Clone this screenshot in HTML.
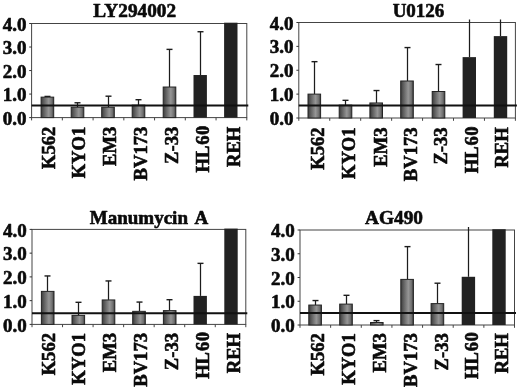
<!DOCTYPE html>
<html><head><meta charset="utf-8"><title>Figure</title>
<style>
html,body{margin:0;padding:0;background:#fff;}
body{width:520px;height:390px;overflow:hidden;}
svg{display:block;}
text{font-family:"Liberation Serif","DejaVu Serif",serif;font-weight:bold;fill:#0a0a0a;stroke:#0a0a0a;stroke-width:0.6;stroke-linejoin:round;}
</style></head><body>
<svg width="520" height="390" viewBox="0 0 520 390">
<defs>
<linearGradient id="g" x1="0" y1="0" x2="1" y2="0">
<stop offset="0" stop-color="#3c3c3c"/><stop offset="0.2" stop-color="#5c5c5c"/><stop offset="0.6" stop-color="#969696"/><stop offset="0.85" stop-color="#707070"/><stop offset="1" stop-color="#3c3c3c"/>
</linearGradient>
</defs>
<rect width="520" height="390" fill="#fff"/>

<g>
<text x="134.7" y="16.7" font-size="19.3" text-anchor="middle">LY294002</text>
<rect x="31.6" y="23.5" width="215.2" height="94.1" fill="none" stroke="#444" stroke-width="1"/>
<line x1="29.200000000000003" y1="117.60" x2="31.6" y2="117.60" stroke="#333" stroke-width="1"/>
<text x="26.4" y="124.70" font-size="19" text-anchor="end">0.0</text>
<line x1="29.200000000000003" y1="94.07" x2="31.6" y2="94.07" stroke="#333" stroke-width="1"/>
<text x="26.4" y="101.17" font-size="19" text-anchor="end">1.0</text>
<line x1="29.200000000000003" y1="70.55" x2="31.6" y2="70.55" stroke="#333" stroke-width="1"/>
<text x="26.4" y="77.65" font-size="19" text-anchor="end">2.0</text>
<line x1="29.200000000000003" y1="47.03" x2="31.6" y2="47.03" stroke="#333" stroke-width="1"/>
<text x="26.4" y="54.13" font-size="19" text-anchor="end">3.0</text>
<line x1="29.200000000000003" y1="23.50" x2="31.6" y2="23.50" stroke="#333" stroke-width="1"/>
<text x="26.4" y="30.60" font-size="19" text-anchor="end">4.0</text>
<line x1="31.60" y1="117.6" x2="31.60" y2="120.4" stroke="#444" stroke-width="1"/>
<line x1="62.34" y1="117.6" x2="62.34" y2="120.4" stroke="#444" stroke-width="1"/>
<line x1="93.09" y1="117.6" x2="93.09" y2="120.4" stroke="#444" stroke-width="1"/>
<line x1="123.83" y1="117.6" x2="123.83" y2="120.4" stroke="#444" stroke-width="1"/>
<line x1="154.57" y1="117.6" x2="154.57" y2="120.4" stroke="#444" stroke-width="1"/>
<line x1="185.31" y1="117.6" x2="185.31" y2="120.4" stroke="#444" stroke-width="1"/>
<line x1="216.06" y1="117.6" x2="216.06" y2="120.4" stroke="#444" stroke-width="1"/>
<line x1="246.80" y1="117.6" x2="246.80" y2="120.4" stroke="#444" stroke-width="1"/>
<line x1="47.5" y1="96.43" x2="47.5" y2="97.13" stroke="#1c1c1c" stroke-width="1.25"/>
<line x1="44.5" y1="96.43" x2="50.5" y2="96.43" stroke="#1c1c1c" stroke-width="1.4"/>
<rect x="41.10" y="97.13" width="12.6" height="20.47" fill="url(#g)" stroke="#242424" stroke-width="1"/>
<line x1="77.5" y1="102.78" x2="77.5" y2="107.25" stroke="#1c1c1c" stroke-width="1.25"/>
<line x1="74.5" y1="102.78" x2="80.5" y2="102.78" stroke="#1c1c1c" stroke-width="1.4"/>
<rect x="71.20" y="107.25" width="12.6" height="10.35" fill="url(#g)" stroke="#242424" stroke-width="1"/>
<line x1="108.5" y1="96.19" x2="108.5" y2="107.25" stroke="#1c1c1c" stroke-width="1.25"/>
<line x1="105.5" y1="96.19" x2="111.5" y2="96.19" stroke="#1c1c1c" stroke-width="1.4"/>
<rect x="101.70" y="107.25" width="12.6" height="10.35" fill="url(#g)" stroke="#242424" stroke-width="1"/>
<line x1="138.5" y1="99.72" x2="138.5" y2="105.13" stroke="#1c1c1c" stroke-width="1.25"/>
<line x1="135.5" y1="99.72" x2="141.5" y2="99.72" stroke="#1c1c1c" stroke-width="1.4"/>
<rect x="132.20" y="105.13" width="12.6" height="12.47" fill="url(#g)" stroke="#242424" stroke-width="1"/>
<line x1="169.5" y1="49.38" x2="169.5" y2="87.02" stroke="#1c1c1c" stroke-width="1.25"/>
<line x1="166.5" y1="49.38" x2="172.5" y2="49.38" stroke="#1c1c1c" stroke-width="1.4"/>
<rect x="163.20" y="87.02" width="12.6" height="30.58" fill="url(#g)" stroke="#242424" stroke-width="1"/>
<line x1="200.5" y1="31.73" x2="200.5" y2="75.02" stroke="#1c1c1c" stroke-width="1.25"/>
<line x1="197.5" y1="31.73" x2="203.5" y2="31.73" stroke="#1c1c1c" stroke-width="1.4"/>
<rect x="193.50" y="75.02" width="13.4" height="42.58" fill="#222"/>
<rect x="224.10" y="22.70" width="13.4" height="94.90" fill="#222"/>
<line x1="31.6" y1="105.5" x2="248.3" y2="105.5" stroke="#111" stroke-width="2"/>
<text transform="translate(55.1,126.7) rotate(-90)" font-size="18.6" text-anchor="end">K562</text>
<text transform="translate(85.3,126.7) rotate(-90)" font-size="18.6" text-anchor="end">KYO1</text>
<text transform="translate(116.1,126.7) rotate(-90)" font-size="18.6" text-anchor="end">EM3</text>
<text transform="translate(147.3,126.7) rotate(-90)" font-size="18.6" text-anchor="end">BV173</text>
<text transform="translate(178.3,126.7) rotate(-90)" font-size="18.6" text-anchor="end">Z-33</text>
<text transform="translate(209.3,125.7) rotate(-90)" font-size="18.6" text-anchor="end">HL<tspan dx="1.0">6</tspan><tspan dx="0.4">0</tspan></text>
<text transform="translate(239.8,126.7) rotate(-90)" font-size="18.6" text-anchor="end">REH</text>
</g>
<g>
<text x="418.5" y="16.5" font-size="19" text-anchor="middle">U0126</text>
<rect x="298.8" y="22.5" width="216.6" height="95.5" fill="none" stroke="#444" stroke-width="1"/>
<line x1="296.40000000000003" y1="118.00" x2="298.8" y2="118.00" stroke="#333" stroke-width="1"/>
<text x="293.6" y="125.10" font-size="19" text-anchor="end">0.0</text>
<line x1="296.40000000000003" y1="94.12" x2="298.8" y2="94.12" stroke="#333" stroke-width="1"/>
<text x="293.6" y="101.22" font-size="19" text-anchor="end">1.0</text>
<line x1="296.40000000000003" y1="70.25" x2="298.8" y2="70.25" stroke="#333" stroke-width="1"/>
<text x="293.6" y="77.35" font-size="19" text-anchor="end">2.0</text>
<line x1="296.40000000000003" y1="46.38" x2="298.8" y2="46.38" stroke="#333" stroke-width="1"/>
<text x="293.6" y="53.48" font-size="19" text-anchor="end">3.0</text>
<line x1="296.40000000000003" y1="22.50" x2="298.8" y2="22.50" stroke="#333" stroke-width="1"/>
<text x="293.6" y="29.60" font-size="19" text-anchor="end">4.0</text>
<line x1="298.80" y1="118" x2="298.80" y2="120.8" stroke="#444" stroke-width="1"/>
<line x1="329.74" y1="118" x2="329.74" y2="120.8" stroke="#444" stroke-width="1"/>
<line x1="360.69" y1="118" x2="360.69" y2="120.8" stroke="#444" stroke-width="1"/>
<line x1="391.63" y1="118" x2="391.63" y2="120.8" stroke="#444" stroke-width="1"/>
<line x1="422.57" y1="118" x2="422.57" y2="120.8" stroke="#444" stroke-width="1"/>
<line x1="453.51" y1="118" x2="453.51" y2="120.8" stroke="#444" stroke-width="1"/>
<line x1="484.46" y1="118" x2="484.46" y2="120.8" stroke="#444" stroke-width="1"/>
<line x1="515.40" y1="118" x2="515.40" y2="120.8" stroke="#444" stroke-width="1"/>
<line x1="314.5" y1="61.66" x2="314.5" y2="94.12" stroke="#1c1c1c" stroke-width="1.25"/>
<line x1="311.5" y1="61.66" x2="317.5" y2="61.66" stroke="#1c1c1c" stroke-width="1.4"/>
<rect x="308.00" y="94.12" width="12.6" height="23.88" fill="url(#g)" stroke="#242424" stroke-width="1"/>
<line x1="345.5" y1="100.33" x2="345.5" y2="105.11" stroke="#1c1c1c" stroke-width="1.25"/>
<line x1="342.5" y1="100.33" x2="348.5" y2="100.33" stroke="#1c1c1c" stroke-width="1.4"/>
<rect x="339.20" y="105.11" width="12.6" height="12.89" fill="url(#g)" stroke="#242424" stroke-width="1"/>
<line x1="376.5" y1="90.54" x2="376.5" y2="102.96" stroke="#1c1c1c" stroke-width="1.25"/>
<line x1="373.5" y1="90.54" x2="379.5" y2="90.54" stroke="#1c1c1c" stroke-width="1.4"/>
<rect x="369.90" y="102.96" width="12.6" height="15.04" fill="url(#g)" stroke="#242424" stroke-width="1"/>
<line x1="407.5" y1="47.57" x2="407.5" y2="80.99" stroke="#1c1c1c" stroke-width="1.25"/>
<line x1="404.5" y1="47.57" x2="410.5" y2="47.57" stroke="#1c1c1c" stroke-width="1.4"/>
<rect x="400.70" y="80.99" width="12.6" height="37.01" fill="url(#g)" stroke="#242424" stroke-width="1"/>
<line x1="438.5" y1="64.52" x2="438.5" y2="91.50" stroke="#1c1c1c" stroke-width="1.25"/>
<line x1="435.5" y1="64.52" x2="441.5" y2="64.52" stroke="#1c1c1c" stroke-width="1.4"/>
<rect x="432.20" y="91.50" width="12.6" height="26.50" fill="url(#g)" stroke="#242424" stroke-width="1"/>
<line x1="469.5" y1="19.50" x2="469.5" y2="57.12" stroke="#1c1c1c" stroke-width="1.25"/>
<rect x="462.60" y="57.12" width="13.4" height="60.88" fill="#222"/>
<line x1="500.5" y1="19.50" x2="500.5" y2="36.11" stroke="#1c1c1c" stroke-width="1.25"/>
<rect x="493.80" y="36.11" width="13.4" height="81.89" fill="#222"/>
<line x1="298.8" y1="105.4" x2="516.9" y2="105.4" stroke="#111" stroke-width="2"/>
<text transform="translate(324.3,127.4) rotate(-90)" font-size="18.6" text-anchor="end">K562</text>
<text transform="translate(355.3,127.4) rotate(-90)" font-size="18.6" text-anchor="end">KYO1</text>
<text transform="translate(386.8,127.4) rotate(-90)" font-size="18.6" text-anchor="end">EM3</text>
<text transform="translate(417.3,127.4) rotate(-90)" font-size="18.6" text-anchor="end">BV173</text>
<text transform="translate(447.3,127.4) rotate(-90)" font-size="18.6" text-anchor="end">Z-33</text>
<text transform="translate(478.3,126.4) rotate(-90)" font-size="18.6" text-anchor="end">HL<tspan dx="1.0">6</tspan><tspan dx="0.4">0</tspan></text>
<text transform="translate(508.3,127.4) rotate(-90)" font-size="18.6" text-anchor="end">REH</text>
</g>
<g>
<text x="89.8" y="224.3" font-size="19">Manumycin <tspan x="194.6">A</tspan></text>
<rect x="32" y="229.4" width="213.8" height="95.0" fill="none" stroke="#444" stroke-width="1"/>
<line x1="29.6" y1="324.40" x2="32" y2="324.40" stroke="#333" stroke-width="1"/>
<text x="26.8" y="331.50" font-size="19" text-anchor="end">0.0</text>
<line x1="29.6" y1="300.65" x2="32" y2="300.65" stroke="#333" stroke-width="1"/>
<text x="26.8" y="307.75" font-size="19" text-anchor="end">1.0</text>
<line x1="29.6" y1="276.90" x2="32" y2="276.90" stroke="#333" stroke-width="1"/>
<text x="26.8" y="284.00" font-size="19" text-anchor="end">2.0</text>
<line x1="29.6" y1="253.15" x2="32" y2="253.15" stroke="#333" stroke-width="1"/>
<text x="26.8" y="260.25" font-size="19" text-anchor="end">3.0</text>
<line x1="29.6" y1="229.40" x2="32" y2="229.40" stroke="#333" stroke-width="1"/>
<text x="26.8" y="236.50" font-size="19" text-anchor="end">4.0</text>
<line x1="32.00" y1="324.4" x2="32.00" y2="327.2" stroke="#444" stroke-width="1"/>
<line x1="62.54" y1="324.4" x2="62.54" y2="327.2" stroke="#444" stroke-width="1"/>
<line x1="93.09" y1="324.4" x2="93.09" y2="327.2" stroke="#444" stroke-width="1"/>
<line x1="123.63" y1="324.4" x2="123.63" y2="327.2" stroke="#444" stroke-width="1"/>
<line x1="154.17" y1="324.4" x2="154.17" y2="327.2" stroke="#444" stroke-width="1"/>
<line x1="184.71" y1="324.4" x2="184.71" y2="327.2" stroke="#444" stroke-width="1"/>
<line x1="215.26" y1="324.4" x2="215.26" y2="327.2" stroke="#444" stroke-width="1"/>
<line x1="245.80" y1="324.4" x2="245.80" y2="327.2" stroke="#444" stroke-width="1"/>
<line x1="47.5" y1="275.95" x2="47.5" y2="291.39" stroke="#1c1c1c" stroke-width="1.25"/>
<line x1="44.5" y1="275.95" x2="50.5" y2="275.95" stroke="#1c1c1c" stroke-width="1.4"/>
<rect x="41.40" y="291.39" width="12.6" height="33.01" fill="url(#g)" stroke="#242424" stroke-width="1"/>
<line x1="78.5" y1="302.31" x2="78.5" y2="315.38" stroke="#1c1c1c" stroke-width="1.25"/>
<line x1="75.5" y1="302.31" x2="81.5" y2="302.31" stroke="#1c1c1c" stroke-width="1.4"/>
<rect x="72.00" y="315.38" width="12.6" height="9.02" fill="url(#g)" stroke="#242424" stroke-width="1"/>
<line x1="108.5" y1="280.94" x2="108.5" y2="299.94" stroke="#1c1c1c" stroke-width="1.25"/>
<line x1="105.5" y1="280.94" x2="111.5" y2="280.94" stroke="#1c1c1c" stroke-width="1.4"/>
<rect x="102.20" y="299.94" width="12.6" height="24.46" fill="url(#g)" stroke="#242424" stroke-width="1"/>
<line x1="139.5" y1="302.07" x2="139.5" y2="311.34" stroke="#1c1c1c" stroke-width="1.25"/>
<line x1="136.5" y1="302.07" x2="142.5" y2="302.07" stroke="#1c1c1c" stroke-width="1.4"/>
<rect x="132.70" y="311.34" width="12.6" height="13.06" fill="url(#g)" stroke="#242424" stroke-width="1"/>
<line x1="169.5" y1="299.70" x2="169.5" y2="310.62" stroke="#1c1c1c" stroke-width="1.25"/>
<line x1="166.5" y1="299.70" x2="172.5" y2="299.70" stroke="#1c1c1c" stroke-width="1.4"/>
<rect x="163.40" y="310.62" width="12.6" height="13.77" fill="url(#g)" stroke="#242424" stroke-width="1"/>
<line x1="200.5" y1="263.36" x2="200.5" y2="295.90" stroke="#1c1c1c" stroke-width="1.25"/>
<line x1="197.5" y1="263.36" x2="203.5" y2="263.36" stroke="#1c1c1c" stroke-width="1.4"/>
<rect x="193.50" y="295.90" width="13.4" height="28.50" fill="#222"/>
<rect x="224.30" y="228.60" width="13.4" height="95.80" fill="#222"/>
<line x1="32" y1="313.2" x2="247.3" y2="313.2" stroke="#111" stroke-width="2"/>
<text transform="translate(55.3,333.0) rotate(-90)" font-size="18.6" text-anchor="end">K562</text>
<text transform="translate(85.3,333.0) rotate(-90)" font-size="18.6" text-anchor="end">KYO1</text>
<text transform="translate(116.3,333.0) rotate(-90)" font-size="18.6" text-anchor="end">EM3</text>
<text transform="translate(147.3,333.0) rotate(-90)" font-size="18.6" text-anchor="end">BV173</text>
<text transform="translate(178.3,333.0) rotate(-90)" font-size="18.6" text-anchor="end">Z-33</text>
<text transform="translate(209.3,332.0) rotate(-90)" font-size="18.6" text-anchor="end">HL<tspan dx="1.0">6</tspan><tspan dx="0.4">0</tspan></text>
<text transform="translate(239.8,333.0) rotate(-90)" font-size="18.6" text-anchor="end">REH</text>
</g>
<g>
<text x="394" y="223.5" font-size="19.3" text-anchor="middle">AG490</text>
<rect x="300" y="230" width="214.5" height="95.0" fill="none" stroke="#444" stroke-width="1"/>
<line x1="297.6" y1="325.00" x2="300" y2="325.00" stroke="#333" stroke-width="1"/>
<text x="294.8" y="332.10" font-size="19" text-anchor="end">0.0</text>
<line x1="297.6" y1="301.25" x2="300" y2="301.25" stroke="#333" stroke-width="1"/>
<text x="294.8" y="308.35" font-size="19" text-anchor="end">1.0</text>
<line x1="297.6" y1="277.50" x2="300" y2="277.50" stroke="#333" stroke-width="1"/>
<text x="294.8" y="284.60" font-size="19" text-anchor="end">2.0</text>
<line x1="297.6" y1="253.75" x2="300" y2="253.75" stroke="#333" stroke-width="1"/>
<text x="294.8" y="260.85" font-size="19" text-anchor="end">3.0</text>
<line x1="297.6" y1="230.00" x2="300" y2="230.00" stroke="#333" stroke-width="1"/>
<text x="294.8" y="237.10" font-size="19" text-anchor="end">4.0</text>
<line x1="300.00" y1="325" x2="300.00" y2="327.8" stroke="#444" stroke-width="1"/>
<line x1="330.64" y1="325" x2="330.64" y2="327.8" stroke="#444" stroke-width="1"/>
<line x1="361.29" y1="325" x2="361.29" y2="327.8" stroke="#444" stroke-width="1"/>
<line x1="391.93" y1="325" x2="391.93" y2="327.8" stroke="#444" stroke-width="1"/>
<line x1="422.57" y1="325" x2="422.57" y2="327.8" stroke="#444" stroke-width="1"/>
<line x1="453.21" y1="325" x2="453.21" y2="327.8" stroke="#444" stroke-width="1"/>
<line x1="483.86" y1="325" x2="483.86" y2="327.8" stroke="#444" stroke-width="1"/>
<line x1="514.50" y1="325" x2="514.50" y2="327.8" stroke="#444" stroke-width="1"/>
<line x1="315.5" y1="300.54" x2="315.5" y2="305.05" stroke="#1c1c1c" stroke-width="1.25"/>
<line x1="312.5" y1="300.54" x2="318.5" y2="300.54" stroke="#1c1c1c" stroke-width="1.4"/>
<rect x="308.80" y="305.05" width="12.6" height="19.95" fill="url(#g)" stroke="#242424" stroke-width="1"/>
<line x1="346.5" y1="295.31" x2="346.5" y2="304.10" stroke="#1c1c1c" stroke-width="1.25"/>
<line x1="343.5" y1="295.31" x2="349.5" y2="295.31" stroke="#1c1c1c" stroke-width="1.4"/>
<rect x="339.70" y="304.10" width="12.6" height="20.90" fill="url(#g)" stroke="#242424" stroke-width="1"/>
<line x1="376.5" y1="320.61" x2="376.5" y2="322.51" stroke="#1c1c1c" stroke-width="1.25"/>
<line x1="373.5" y1="320.61" x2="379.5" y2="320.61" stroke="#1c1c1c" stroke-width="1.4"/>
<rect x="370.50" y="322.51" width="12.6" height="2.49" fill="url(#g)" stroke="#242424" stroke-width="1"/>
<line x1="407.5" y1="246.62" x2="407.5" y2="279.40" stroke="#1c1c1c" stroke-width="1.25"/>
<line x1="404.5" y1="246.62" x2="410.5" y2="246.62" stroke="#1c1c1c" stroke-width="1.4"/>
<rect x="400.80" y="279.40" width="12.6" height="45.60" fill="url(#g)" stroke="#242424" stroke-width="1"/>
<line x1="437.5" y1="283.20" x2="437.5" y2="303.62" stroke="#1c1c1c" stroke-width="1.25"/>
<line x1="434.5" y1="283.20" x2="440.5" y2="283.20" stroke="#1c1c1c" stroke-width="1.4"/>
<rect x="431.10" y="303.62" width="12.6" height="21.38" fill="url(#g)" stroke="#242424" stroke-width="1"/>
<line x1="468.5" y1="227.00" x2="468.5" y2="276.79" stroke="#1c1c1c" stroke-width="1.25"/>
<rect x="461.70" y="276.79" width="13.4" height="48.21" fill="#222"/>
<rect x="492.30" y="229.20" width="13.4" height="95.80" fill="#222"/>
<line x1="300" y1="313" x2="516.0" y2="313" stroke="#111" stroke-width="2"/>
<text transform="translate(324.3,333.2) rotate(-90)" font-size="18.6" text-anchor="end">K562</text>
<text transform="translate(355.3,333.2) rotate(-90)" font-size="18.6" text-anchor="end">KYO1</text>
<text transform="translate(386.3,333.2) rotate(-90)" font-size="18.6" text-anchor="end">EM3</text>
<text transform="translate(417.3,333.2) rotate(-90)" font-size="18.6" text-anchor="end">BV173</text>
<text transform="translate(447.8,333.2) rotate(-90)" font-size="18.6" text-anchor="end">Z-33</text>
<text transform="translate(478.3,332.2) rotate(-90)" font-size="18.6" text-anchor="end">HL<tspan dx="1.0">6</tspan><tspan dx="0.4">0</tspan></text>
<text transform="translate(508.3,333.2) rotate(-90)" font-size="18.6" text-anchor="end">REH</text>
</g>
</svg></body></html>
